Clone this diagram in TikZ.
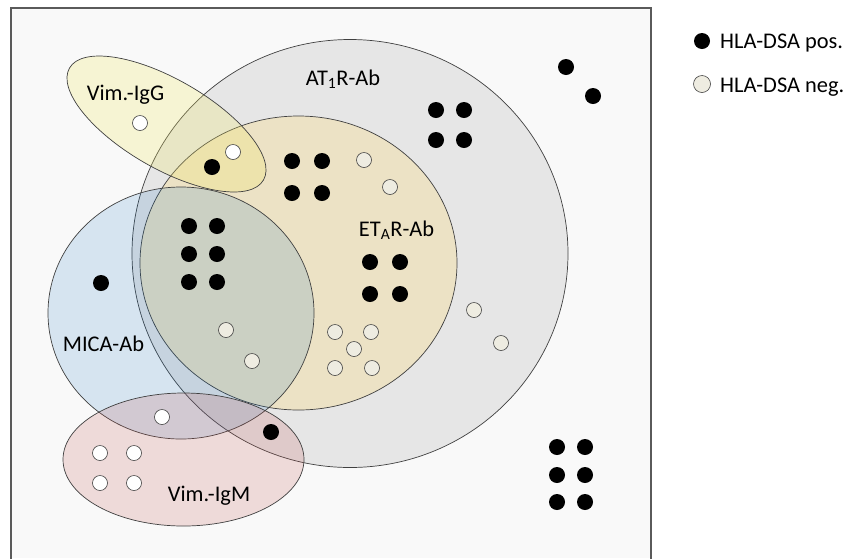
\documentclass[tikz,border=0pt]{standalone}
\usepackage{fontspec}
\setmainfont{Carlito}
\definecolor{framebg}{HTML}{F9F9F9}
\definecolor{framecol}{HTML}{5A5A5A}
\definecolor{setcol}{HTML}{404040}
\definecolor{at1r}{HTML}{E6E6E6}
\definecolor{etar}{RGB}{236,226,197}
\definecolor{mica}{RGB}{16,109,189}
\definecolor{igg}{RGB}{240,230,100}
\definecolor{igm}{HTML}{C0504D}
\definecolor{cream}{RGB}{238,236,225}
\begin{document}
\begin{tikzpicture}[x=1pt,y=-1pt,
  posdot/.style={circle, fill=black, inner sep=0pt, minimum size=16pt},
  negw/.style={circle, draw=setcol, line width=0.6pt, fill=white, inner sep=0pt, minimum size=15pt},
  negc/.style={negw, fill=cream},
  setline/.style={draw=setcol, line width=0.7pt},
  lab/.style={font=\fontsize{22.4}{26}\selectfont, inner sep=0pt, anchor=base}
]
\useasboundingbox (0,0) rectangle (858,558);
% frame
\fill[framebg] (11,8) rectangle (651,558);
\draw[framecol, line width=1.4pt] (11,560) -- (11,8) -- (651,8) -- (651,560);
% sets
\path[setline, fill=at1r] (350,253.5) ellipse [x radius=218, y radius=214];
\path[setline, fill=etar] (298.5,263) ellipse [x radius=158.5, y radius=147];
\path[setline, fill=mica, fill opacity=0.15] (181,313) ellipse [x radius=133, y radius=126];
\path[setline, fill=igg, fill opacity=0.25, rotate around={-30:(166.5,124)}] (166.5,124) ellipse [x radius=112, y radius=44.5];
\path[setline, fill=igm, fill opacity=0.18] (183.5,459.5) ellipse [x radius=120.5, y radius=66.5];
% labels
\node[lab] (lat1r) at (343,85) {AT\textsubscript{1}R-Ab};
\node[lab] (letar) at (396.5,236) {ET\textsubscript{A}R-Ab};
\node[lab] (lmica) at (103.5,351) {MICA-Ab};
\node[lab] (ligg) at (125.5,100) {Vim.-IgG};
\node[lab] (ligm) at (209,501.7) {Vim.-IgM};
% positive dots
\foreach \x/\y [count=\i] in {566/67, 593/96,
  436/110, 464/110, 436/140, 464/140,
  292/161, 322/161, 292/193, 322/193,
  212/167,
  189/226, 217/226, 189/254, 217/254, 189/282, 217/282,
  370/262, 400/262, 370/294, 400/294,
  101/283, 271/432,
  557/447, 585/447, 557/475, 585/475, 557/502, 585/502}
  \node[posdot] (p\i) at (\x,\y) {};
% negative dots, white
\foreach \x/\y [count=\i] in {140/123, 233/152, 162/417,
  100/453, 134/453, 100/483, 134/483}
  \node[negw] (w\i) at (\x,\y) {};
% negative dots, cream
\foreach \x/\y [count=\i] in {364/160, 390/187, 226/330, 252/361,
  335/332, 371/332, 354/349, 335/368, 372/368,
  474/310, 501/343}
  \node[negc] (c\i) at (\x,\y) {};
% legend
\node[posdot] (lpos) at (702,41) {};
\node[lab, anchor=base west] (lpost) at (720,48.3) {HLA-DSA pos.};
\node[negc, minimum size=17pt] (lneg) at (702,84) {};
\node[lab, anchor=base west] (lnegt) at (720,92.7) {HLA-DSA neg.};
\end{tikzpicture}
\end{document}
